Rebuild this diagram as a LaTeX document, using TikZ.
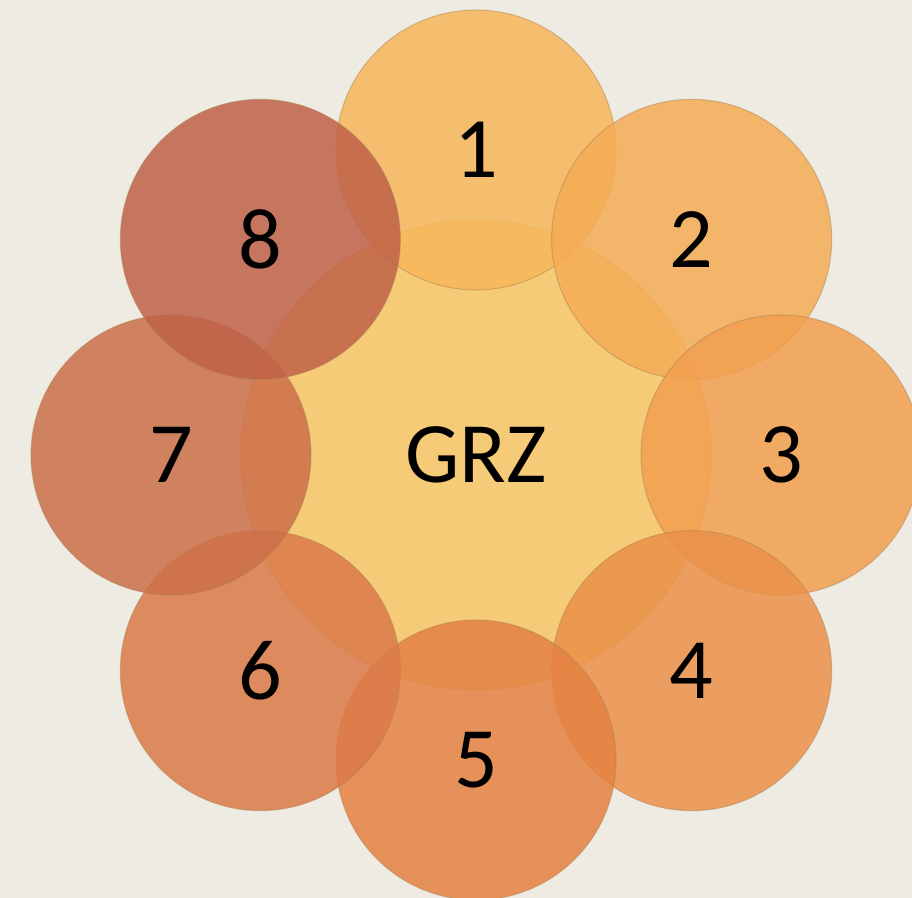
\documentclass[tikz,border=0pt]{standalone}
\usepackage{fontspec}
\setmainfont{Carlito}
\usetikzlibrary{calc}
\definecolor{paper}{HTML}{EDEBE2}
\definecolor{hub}{HTML}{F6CB78}
\definecolor{petA}{HTML}{F6B75A}
\definecolor{petB}{HTML}{F4AC55}
\definecolor{petC}{HTML}{F19F4F}
\definecolor{petD}{HTML}{EB9149}
\definecolor{petE}{HTML}{E48242}
\definecolor{petF}{HTML}{DB7A49}
\definecolor{petG}{HTML}{CC6F49}
\definecolor{petH}{HTML}{C06248}
\tikzset{
  petal/.style={circle, minimum size=5.6cm, inner sep=0pt,
                draw=brown!70!gray, draw opacity=0.45, line width=0.6pt,
                fill opacity=0.85, text opacity=1,
                font=\fontsize{49}{50}\selectfont},
  hubdisc/.style={circle, minimum size=9.4cm, inner sep=0pt,
                draw=brown!60!gray, draw opacity=0.35, line width=0.6pt,
                fill=hub, font=\fontsize{49}{50}\selectfont}
}

\begin{document}
\begin{tikzpicture}
\fill[paper] (0,0) rectangle (18.24,-17.96);
\useasboundingbox (0,0) rectangle (18.24,-17.96);

\node[hubdisc] (grz) at (9.52,-9.1) {GRZ};

\foreach \n/\ang/\col in {1/90/petA, 2/45/petB, 3/0/petC, 4/-45/petD,
                          5/-90/petE, 6/-135/petF, 7/180/petG, 8/135/petH}
  \node[petal, fill=\col] (c\n) at ($(grz)+(\ang:6.1)$) {\n};

\end{tikzpicture}
\end{document}
